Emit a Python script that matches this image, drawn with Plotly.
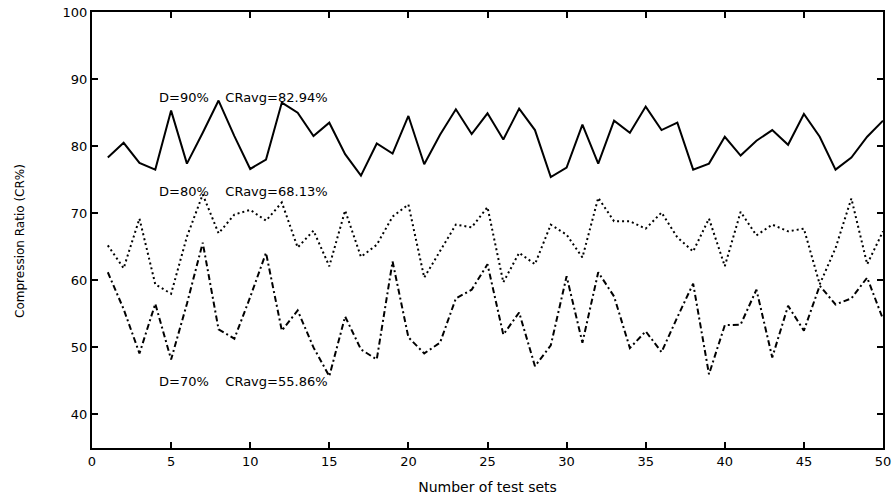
import plotly.graph_objects as go

test_sets = list(range(1, 51))

cr_d90 = [78.3, 80.5, 77.5, 76.5, 85.3, 77.4, 82.0, 86.8, 81.5, 76.6,
          78.0, 86.5, 85.0, 81.5, 83.5, 78.8, 75.6, 80.4, 78.9, 84.5,
          77.3, 81.7, 85.5, 81.8, 84.9, 81.0, 85.6, 82.4, 75.4, 76.8,
          83.2, 77.4, 83.8, 82.0, 85.9, 82.4, 83.5, 76.5, 77.4, 81.4,
          78.6, 80.8, 82.4, 80.2, 84.8, 81.4, 76.5, 78.3, 81.4, 83.8]

cr_d80 = [65.2, 61.8, 69.2, 59.4, 58.0, 66.5, 72.8, 67.0, 69.8, 70.5,
          68.9, 71.6, 64.9, 67.4, 62.1, 70.4, 63.5, 65.3, 69.5, 71.3,
          60.4, 64.3, 68.3, 67.9, 70.9, 59.7, 64.1, 62.4, 68.3, 66.8,
          63.4, 72.3, 68.8, 68.8, 67.7, 70.1, 66.4, 64.3, 69.2, 62.1,
          70.2, 66.7, 68.3, 67.3, 67.7, 59.4, 64.8, 72.2, 62.4, 67.3]

cr_d70 = [61.2, 55.7, 49.1, 56.5, 48.2, 56.5, 65.6, 52.7, 51.3, 57.5,
          64.1, 52.5, 55.5, 50.0, 45.7, 54.6, 49.7, 48.2, 62.8, 51.5,
          49.1, 50.7, 57.3, 58.6, 62.4, 51.9, 55.2, 47.2, 50.3, 60.6,
          50.7, 61.2, 57.6, 49.9, 52.4, 49.3, 54.5, 59.5, 46.0, 53.3,
          53.4, 58.6, 48.5, 56.2, 52.5, 59.2, 56.4, 57.3, 60.4, 54.2]

labels = ["D=90%\u00a0\u00a0\u00a0\u00a0CRavg=82.94%",
          "D=80%\u00a0\u00a0\u00a0\u00a0CRavg=68.13%",
          "D=70%\u00a0\u00a0\u00a0\u00a0CRavg=55.86%"]
label_x = [4.1, 4.1, 4.1]
label_y = [87.3, 73.2, 44.9]

x_ticks = list(range(0, 51, 5))
y_ticks = list(range(40, 101, 10))

FONT = "DejaVu Sans, Verdana, sans-serif"

fig = go.Figure()
fig.add_trace(go.Scatter(x=test_sets, y=cr_d90, mode="lines",
                         line=dict(color="black", width=2, dash="solid")))
fig.add_trace(go.Scatter(x=test_sets, y=cr_d80, mode="lines",
                         line=dict(color="black", width=2, dash="2px,3px")))
fig.add_trace(go.Scatter(x=test_sets, y=cr_d70, mode="lines",
                         line=dict(color="black", width=2, dash="6px,3px,2px,3px")))

for t, xx, yy in zip(labels, label_x, label_y):
    fig.add_annotation(x=xx, y=yy, text=t, showarrow=False, xanchor="left",
                       yanchor="middle", font=dict(size=13, color="black", family=FONT))

# y-axis title placed as a rotated annotation for exact positioning
fig.add_annotation(xref="paper", yref="paper", x=-0.091, y=0.475,
                   text="Compression Ratio (CR%)", textangle=-90, showarrow=False,
                   xanchor="center", yanchor="middle",
                   font=dict(size=12, color="black", family=FONT))

axis_common = dict(showgrid=False, zeroline=False, showline=True, linecolor="black",
                   linewidth=2, mirror="ticks", ticks="inside", ticklen=6,
                   tickwidth=1.5, tickcolor="black", automargin=False,
                   tickfont=dict(size=13, color="black", family=FONT))

fig.update_xaxes(range=[0, 50], tickvals=x_ticks,
                 title=dict(text="Number of test sets",
                            font=dict(size=14, color="black", family=FONT)),
                 **axis_common)
fig.update_yaxes(range=[35, 100], tickvals=y_ticks, **axis_common)

fig.update_layout(width=894, height=498, showlegend=False,
                  margin=dict(l=92, r=11, t=12, b=50),
                  paper_bgcolor="white", plot_bgcolor="white")

fig.write_html("out.html", config={"displayModeBar": False},
               post_script="document.body.style.margin='0px';")
